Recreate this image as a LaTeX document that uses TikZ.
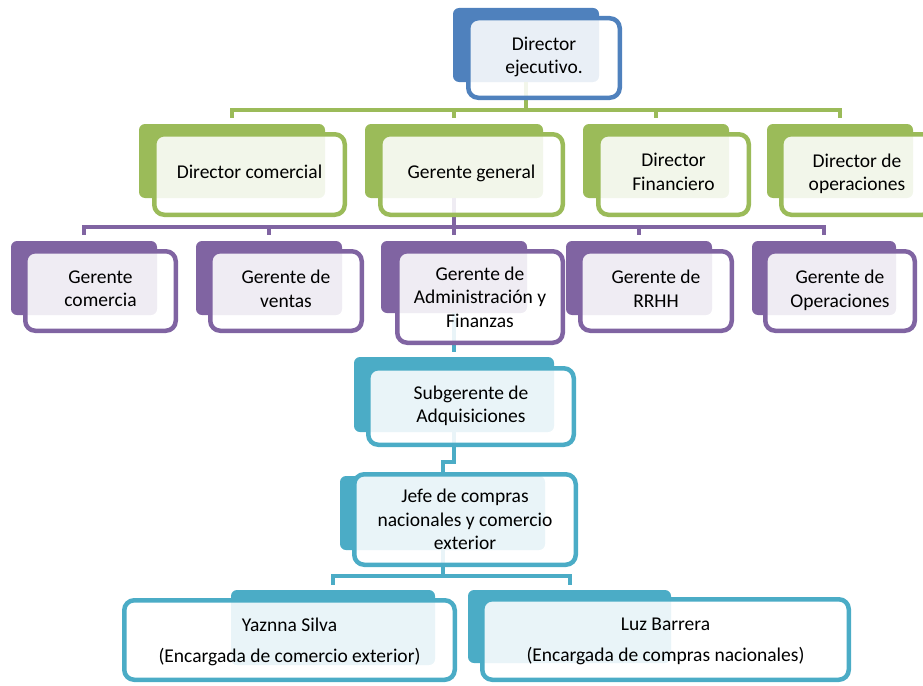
\documentclass[tikz,border=0pt]{standalone}
\usepackage{fontspec}
\setmainfont{Carlito}[Ligatures=NoCommon]
\usepackage{tikz}
\usetikzlibrary{positioning}

\definecolor{ofblue}{HTML}{4F81BD}
\definecolor{ofgreen}{HTML}{9BBB59}
\definecolor{ofpurple}{HTML}{8064A2}
\definecolor{ofteal}{HTML}{4BACC6}

\begin{document}
\begin{tikzpicture}[x=1pt, y=-1pt,
	tab/.style={rectangle, rounded corners=6pt, fill=#1, inner sep=0pt, outer sep=0pt},
	card/.style={rectangle, rounded corners=10pt, draw=#1, line width=4.5pt, fill=white,
		fill opacity=0.88, text opacity=1, align=center, inner sep=2pt, text depth=5pt,
		font=\fontsize{19.5}{23.5}\selectfont},
	conn/.style={draw=#1, line width=4pt, shorten >=6pt}]
				\useasboundingbox (0,0) rectangle (923,685);
				\clip (0,0) rectangle (923,685);
				% tabs behind the cards
				\node[tab=ofblue, minimum width=146pt, minimum height=74pt] (dirT) at (526,45) {};
				\node[tab=ofgreen, minimum width=186pt, minimum height=74pt] (dcomT) at (232,161) {};
				\node[tab=ofgreen, minimum width=178pt, minimum height=74pt] (ggenT) at (454,161) {};
				\node[tab=ofgreen, minimum width=146pt, minimum height=74pt] (dfinT) at (656,161) {};
				\node[tab=ofgreen, minimum width=146pt, minimum height=74pt] (dopeT) at (840,161) {};
				\node[tab=ofpurple, minimum width=146pt, minimum height=74pt] (gcomT) at (84,278) {};
				\node[tab=ofpurple, minimum width=146pt, minimum height=74pt] (gvenT) at (269,278) {};
				\node[tab=ofpurple, minimum width=146pt, minimum height=72pt] (gadmT) at (454,277) {};
				\node[tab=ofpurple, minimum width=146pt, minimum height=74pt] (grrhhT) at (639,278) {};
				\node[tab=ofpurple, minimum width=144pt, minimum height=74pt] (gopeT) at (824,278) {};
				\node[tab=ofteal, minimum width=200pt, minimum height=75pt] (sadqT) at (454,394.5) {};
				\node[tab=ofteal, minimum width=205pt, minimum height=74pt] (jefeT) at (442.5,513) {};
				\node[tab=ofteal, minimum width=204pt, minimum height=75pt] (ysilT) at (333,627.5) {};
				\node[tab=ofteal, minimum width=203pt, minimum height=73pt] (lbarT) at (569.5,626.5) {};
				% connectors
				\draw[conn=ofgreen] (dirT.south) -- ++(0,27.5) -| (dcomT.north);
				\draw[conn=ofgreen] (dirT.south) -- ++(0,27.5) -| (ggenT.north);
				\draw[conn=ofgreen] (dirT.south) -- ++(0,27.5) -| (dfinT.north);
				\draw[conn=ofgreen] (dirT.south) -- ++(0,27.5) -| (dopeT.north);
				\draw[conn=ofpurple] (ggenT.south) -- ++(0,29) -| (gcomT.north);
				\draw[conn=ofpurple] (ggenT.south) -- ++(0,29) -| (gvenT.north);
				\draw[conn=ofpurple] (ggenT.south) -- ++(0,29) -| (gadmT.north);
				\draw[conn=ofpurple] (ggenT.south) -- ++(0,29) -| (grrhhT.north);
				\draw[conn=ofpurple] (ggenT.south) -- ++(0,29) -| (gopeT.north);
				\draw[conn=ofteal, shorten >=5pt] (gadmT.south) -- (sadqT.north);
				\draw[conn=ofteal, shorten >=4pt] (sadqT.south) -- ++(0,30) -| (jefeT.north);
				\draw[conn=ofteal, shorten >=5pt] (jefeT.south) -- ++(0,26) -| (ysilT.north);
				\draw[conn=ofteal, shorten >=5pt] (jefeT.south) -- ++(0,26) -| (lbarT.north);
				% cards
				\node[card=ofblue, minimum width=151.5pt, minimum height=79.5pt] (dir) at (544,58) {Director\\ejecutivo.};
				\node[card=ofgreen, minimum width=190.5pt, minimum height=80.5pt] (dcom) at (249.5,174.5) {Director comercial};
				\node[card=ofgreen, minimum width=182.5pt, minimum height=80.5pt] (ggen) at (471.5,174.5) {Gerente general};
				\node[card=ofgreen, minimum width=150.5pt, minimum height=80.5pt] (dfin) at (673.5,174.5) {Director\\Financiero};
				\node[card=ofgreen, minimum width=151.5pt, minimum height=80.5pt] (dope) at (857,174.5) {Director de\\operaciones};
				\node[card=ofpurple, minimum width=150.5pt, minimum height=79.5pt] (gcom) at (100.5,291) {Gerente\\comercia};
				\node[card=ofpurple, minimum width=151.5pt, minimum height=79.5pt] (gven) at (286,291) {Gerente de\\ventas};
				\node[card=ofpurple, minimum width=165.5pt, minimum height=91.5pt, text depth=0pt] (gadm) at (480,297) {Gerente de\\Administración y\\Finanzas};
				\node[card=ofpurple, minimum width=151.5pt, minimum height=79.5pt] (grrhh) at (656,291) {Gerente de\\RRHH};
				\node[card=ofpurple, minimum width=149.5pt, minimum height=79.5pt] (gope) at (840,291) {Gerente de\\Operaciones};
				\node[card=ofteal, minimum width=205.5pt, minimum height=76.5pt] (sadq) at (471,406.5) {Subgerente de\\Adquisiciones};
				\node[card=ofteal, minimum width=221.5pt, minimum height=90.5pt, text depth=0pt] (jefe) at (465,519.5) {Jefe de compras\\nacionales y comercio\\exterior};
				\node[card=ofteal, minimum width=330.5pt, minimum height=79.5pt, text depth=0pt] (ysil) at (289.5,640) {Yaznna Silva\\[7pt](Encargada de comercio exterior)};
				\node[card=ofteal, minimum width=366.5pt, minimum height=80.5pt, text depth=0pt] (lbar) at (665.5,639.5) {Luz Barrera\\[7pt](Encargada de compras nacionales)};
			\end{tikzpicture}
\end{document}
